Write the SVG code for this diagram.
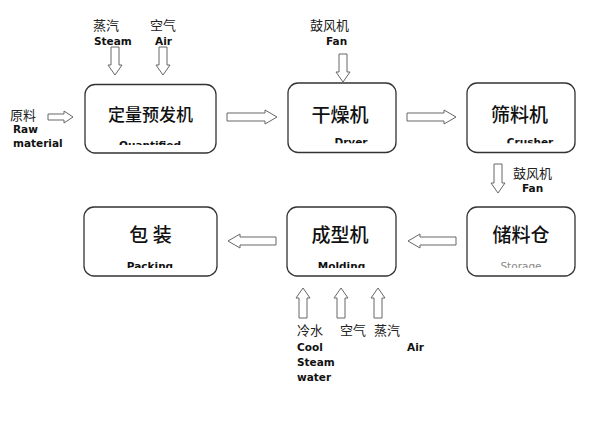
<svg xmlns="http://www.w3.org/2000/svg" width="599" height="433" viewBox="0 0 599 433">
<style>
.box{fill:#fff;stroke:#333;stroke-width:1.3}
.arr{fill:#fff;stroke:#666;stroke-width:1}
.cn{font-family:"Noto Sans CJK SC","DejaVu Sans",sans-serif;font-size:13px;fill:#222}
.cnb{font-family:"Noto Sans CJK SC","DejaVu Sans",sans-serif;font-size:19px;font-weight:500;fill:#111;text-anchor:middle}
.en{font-family:"DejaVu Sans",sans-serif;font-size:10.5px;font-weight:bold;fill:#111}
.enc{font-family:"DejaVu Sans",sans-serif;font-size:10.5px;font-weight:bold;fill:#111;text-anchor:middle}
.eng{font-family:"DejaVu Sans",sans-serif;font-size:10.5px;fill:#888;text-anchor:middle}
</style>
<defs>
<clipPath id="c1"><rect x="85" y="85" width="131" height="60"/></clipPath>
<clipPath id="c2"><rect x="288" y="83" width="108" height="60.3"/></clipPath>
<clipPath id="c3"><rect x="467" y="83" width="108" height="60.3"/></clipPath>
<clipPath id="c4"><rect x="84" y="207" width="133" height="61"/></clipPath>
<clipPath id="c5"><rect x="287" y="207" width="109" height="61"/></clipPath>
<clipPath id="c6"><rect x="467" y="207" width="108" height="61"/></clipPath>
</defs>
<g id="connectors">
<polygon class="arr" points="48,114 64,114 64,111 73,117 64,123 64,120 48,120"/>
<polygon class="arr" points="227,113 265,113 265,110 277,117 265,124 265,121 227,121"/>
<polygon class="arr" points="407,113 444,113 444,110 456,117 444,124 444,121 407,121"/>
<polygon class="arr" points="456,237 420,237 420,234 408,241 420,248 420,245 456,245"/>
<polygon class="arr" points="276,237 240,237 240,234 228,241 240,248 240,245 276,245"/>
<polygon class="arr" points="111,47 119,47 119,65 122,65 115,75 108,65 111,65"/>
<polygon class="arr" points="159,47 167,47 167,65 170,65 163,75 156,65 159,65"/>
<polygon class="arr" points="339,54 347,54 347,72 350,72 343,82 336,72 339,72"/>
<polygon class="arr" points="494,164 502,164 502,183 505,183 498,193 491,183 494,183"/>
<polygon class="arr" points="299,318 307,318 307,298 310,298 303,288 296,298 299,298"/>
<polygon class="arr" points="337,318 345,318 345,298 348,298 341,288 334,298 337,298"/>
<polygon class="arr" points="374,318 382,318 382,298 385,298 378,288 371,298 374,298"/>
</g>
<g id="n1">
<rect class="box" x="85" y="84.5" width="131" height="68.5" rx="10"/>
<text class="cnb" x="150.5" y="121" style="font-size:17px">定量预发机</text>
<text class="enc" x="150" y="148.8" clip-path="url(#c1)">Quantified</text>
</g>
<g id="n2">
<rect class="box" x="288" y="83" width="108" height="69.5" rx="10"/>
<text class="cnb" x="340" y="122">干燥机</text>
<text class="enc" x="351" y="145.6" clip-path="url(#c2)">Dryer</text>
</g>
<g id="n3">
<rect class="box" x="467" y="83" width="108" height="69.5" rx="10"/>
<text class="cnb" x="519.5" y="122">筛料机</text>
<text class="enc" x="530" y="145.6" clip-path="url(#c3)">Crusher</text>
</g>
<g id="n4">
<rect class="box" x="84" y="207" width="133" height="69" rx="10"/>
<text class="cnb" x="150.5" y="242">包 装</text>
<text class="enc" x="150" y="270" clip-path="url(#c4)">Packing</text>
</g>
<g id="n5">
<rect class="box" x="287" y="207" width="109" height="69" rx="10"/>
<text class="cnb" x="340" y="242">成型机</text>
<text class="enc" x="341.5" y="269.7" clip-path="url(#c5)">Molding</text>
</g>
<g id="n6">
<rect class="box" x="467" y="207" width="108" height="69" rx="10"/>
<text class="cnb" x="521" y="242">储料仓</text>
<text class="eng" x="521" y="270" clip-path="url(#c6)">Storage</text>
</g>
<g id="labels">
<text class="cn" x="93" y="30">蒸汽</text>
<text class="en" x="94" y="45">Steam</text>
<text class="cn" x="150" y="30">空气</text>
<text class="en" x="155" y="45">Air</text>
<text class="cn" x="10" y="120">原料</text>
<text class="en" x="13" y="133">Raw</text>
<text class="en" x="13" y="147">material</text>
<text class="cn" x="310" y="30">鼓风机</text>
<text class="en" x="326" y="45">Fan</text>
<text class="cn" x="513" y="178">鼓风机</text>
<text class="en" x="522" y="192">Fan</text>
<text class="cn" x="297" y="335">冷水</text>
<text class="cn" x="340" y="335">空气</text>
<text class="cn" x="374" y="335">蒸汽</text>
<text class="en" x="297" y="351">Cool</text>
<text class="en" x="407" y="351">Air</text>
<text class="en" x="297" y="366">Steam</text>
<text class="en" x="297" y="381">water</text>
</g>
</svg>
